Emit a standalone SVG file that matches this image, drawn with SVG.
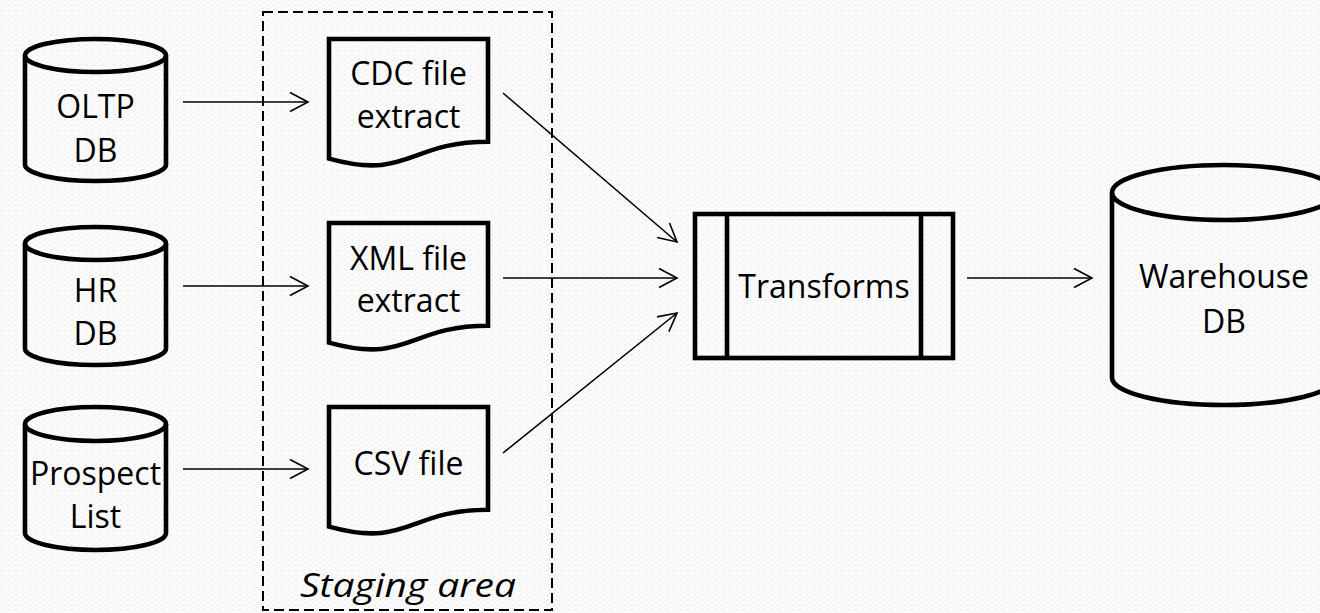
<svg xmlns="http://www.w3.org/2000/svg" width="1320" height="613" viewBox="0 0 1320 613">
<defs>
<pattern id="tex" width="7" height="5" patternUnits="userSpaceOnUse">
<rect width="7" height="5" fill="#fbfbfb"/>
<rect x="0" y="0" width="3" height="1" fill="#f1f1f1"/>
<rect x="4" y="2" width="2" height="1" fill="#f3f3f3"/>
<rect x="1" y="4" width="3" height="1" fill="#f2f2f2"/>
</pattern>
<marker id="arr" markerUnits="userSpaceOnUse" markerWidth="22" markerHeight="22" refX="18" refY="10" orient="auto" overflow="visible">
<path d="M0,0.5 L18,10 L0,19.5" fill="none" stroke="#000" stroke-width="1.6"/>
</marker>
</defs>
<style>
.shape{fill:none;stroke:#000;stroke-width:4.6;stroke-linejoin:miter}
.lbl{font-family:"Open Sans","Liberation Sans",sans-serif;font-size:32px;fill:#000;text-anchor:middle}
.conn{fill:none;stroke:#000;stroke-width:1.6;marker-end:url(#arr)}
.stage{fill:none;stroke:#000;stroke-width:2;stroke-dasharray:10 5}
</style>
<rect width="1320" height="613" fill="url(#tex)"/>

<g id="staging">
<rect class="stage" x="263" y="12" width="289" height="598"/>
<text class="lbl" x="408" y="597" font-style="italic" font-size="35" textLength="216" lengthAdjust="spacingAndGlyphs">Staging area</text>
</g>

<g id="oltp">
<path class="shape" d="M25,55.5 L25,164.5 A70.5,16.5 0 0 0 166,164.5 L166,55.5"/>
<ellipse class="shape" cx="95.5" cy="55.5" rx="70.5" ry="16.5"/>
<text class="lbl" x="95.5" y="118">OLTP</text>
<text class="lbl" x="95.5" y="162">DB</text>
</g>

<g id="hr">
<path class="shape" d="M25,243.5 L25,348.5 A70.5,16.5 0 0 0 166,348.5 L166,243.5"/>
<ellipse class="shape" cx="95.5" cy="243.5" rx="70.5" ry="16.5"/>
<text class="lbl" x="95.5" y="302">HR</text>
<text class="lbl" x="95.5" y="345">DB</text>
</g>

<g id="prospect">
<path class="shape" d="M25,424 L25,533 A70.5,17 0 0 0 166,533 L166,424"/>
<ellipse class="shape" cx="95.5" cy="424" rx="70.5" ry="17"/>
<text class="lbl" x="95.5" y="485">Prospect</text>
<text class="lbl" x="95.5" y="528">List</text>
</g>

<g id="cdc">
<path class="shape" d="M329,39 L488,39 L488,141.7 C408.5,141.7 408.5,180.7 329,158.6 Z"/>
<text class="lbl" x="408.5" y="85">CDC file</text>
<text class="lbl" x="408.5" y="128">extract</text>
</g>

<g id="xml">
<path class="shape" d="M329,223 L488,223 L488,325.7 C408.5,325.7 408.5,364.7 329,342.6 Z"/>
<text class="lbl" x="408.5" y="270">XML file</text>
<text class="lbl" x="408.5" y="312">extract</text>
</g>

<g id="csv">
<path class="shape" d="M329,407 L488,407 L488,509.7 C408.5,509.7 408.5,548.7 329,526.6 Z"/>
<text class="lbl" x="408.5" y="475">CSV file</text>
</g>

<g id="transforms">
<rect class="shape" x="695" y="214" width="258" height="144"/>
<line class="shape" x1="727" y1="214" x2="727" y2="358"/>
<line class="shape" x1="921" y1="214" x2="921" y2="358"/>
<text class="lbl" x="824" y="298">Transforms</text>
</g>

<g id="warehouse">
<path class="shape" d="M1112,192.5 L1112,377.5 A112,27.5 0 0 0 1336,377.5 L1336,192.5"/>
<ellipse class="shape" cx="1224" cy="192.5" rx="112" ry="27.5"/>
<text class="lbl" x="1224" y="288">Warehouse</text>
<text class="lbl" x="1224" y="333">DB</text>
</g>

<g id="connectors">
<line class="conn" x1="183" y1="102" x2="308" y2="102"/>
<line class="conn" x1="183" y1="286" x2="308" y2="286"/>
<line class="conn" x1="183" y1="469" x2="308" y2="469"/>
<line class="conn" x1="503" y1="93" x2="677" y2="242"/>
<line class="conn" x1="503" y1="278" x2="677" y2="278"/>
<line class="conn" x1="503" y1="453" x2="677" y2="313"/>
<line class="conn" x1="967" y1="278" x2="1092" y2="278"/>
</g>
</svg>
